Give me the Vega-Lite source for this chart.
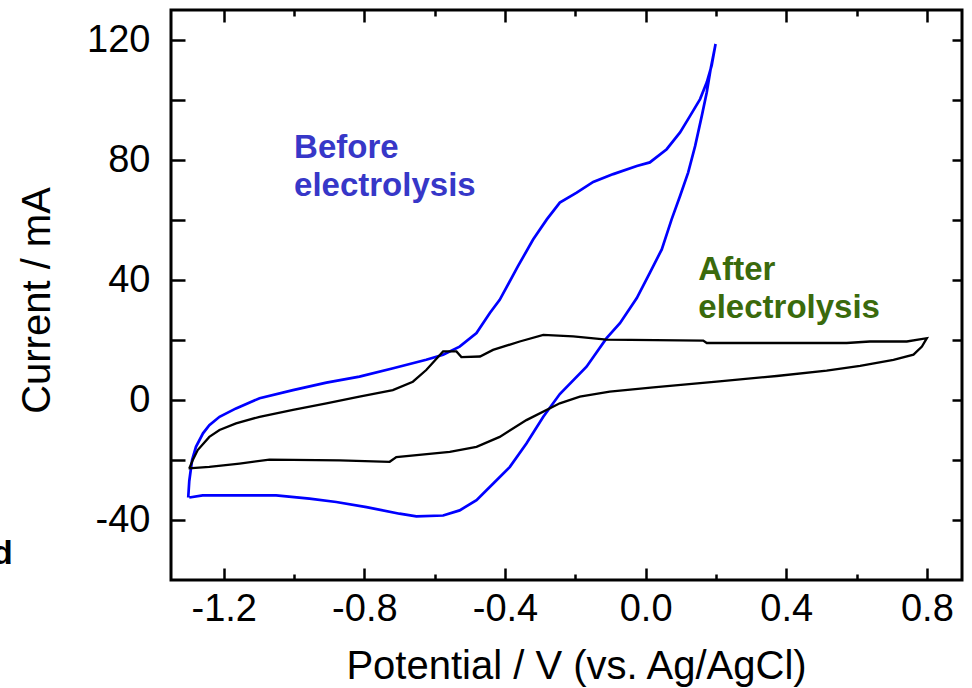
{
  "$schema": "https://vega.github.io/schema/vega-lite/v6.json",
  "width": 791,
  "height": 570,
  "autosize": {"type": "none"},
  "padding": {"left": 171, "top": 10, "right": 10, "bottom": 108},
  "background": "white",
  "config": {
    "font": "Liberation Sans",
    "view": {"stroke": "black", "strokeWidth": 3},
    "axis": {
      "domain": false,
      "grid": false,
      "tickColor": "black",
      "tickWidth": 2.5,
      "labelColor": "black",
      "titleColor": "black",
      "labelFont": "Liberation Sans",
      "labelFontSize": 38,
      "titleFont": "Liberation Sans",
      "titleFontSize": 40,
      "titleFontWeight": "normal",
      "labelFlush": false,
      "labelOverlap": false,
      "labelBound": false
    }
  },
  "resolve": {
    "scale": {"x": "shared", "y": "shared"},
    "axis": {"x": "independent", "y": "independent"}
  },
  "layer": [
    {
      "data": {"values": [
        {"series": "before", "order": 1, "V": -1.301, "I": -32.5},
        {"series": "before", "order": 2, "V": -1.298, "I": -27.0},
        {"series": "before", "order": 3, "V": -1.290, "I": -20.0},
        {"series": "before", "order": 4, "V": -1.279, "I": -15.6},
        {"series": "before", "order": 5, "V": -1.259, "I": -11.1},
        {"series": "before", "order": 6, "V": -1.241, "I": -8.4},
        {"series": "before", "order": 7, "V": -1.212, "I": -5.6},
        {"series": "before", "order": 8, "V": -1.165, "I": -2.8},
        {"series": "before", "order": 9, "V": -1.098, "I": 0.6},
        {"series": "before", "order": 10, "V": -1.003, "I": 3.3},
        {"series": "before", "order": 11, "V": -0.908, "I": 5.8},
        {"series": "before", "order": 12, "V": -0.814, "I": 7.8},
        {"series": "before", "order": 13, "V": -0.718, "I": 10.6},
        {"series": "before", "order": 14, "V": -0.624, "I": 13.4},
        {"series": "before", "order": 15, "V": -0.576, "I": 15.1},
        {"series": "before", "order": 16, "V": -0.529, "I": 17.8},
        {"series": "before", "order": 17, "V": -0.481, "I": 22.3},
        {"series": "before", "order": 18, "V": -0.443, "I": 29.0},
        {"series": "before", "order": 19, "V": -0.415, "I": 33.4},
        {"series": "before", "order": 20, "V": -0.363, "I": 44.6},
        {"series": "before", "order": 21, "V": -0.320, "I": 53.5},
        {"series": "before", "order": 22, "V": -0.281, "I": 60.2},
        {"series": "before", "order": 23, "V": -0.244, "I": 65.8},
        {"series": "before", "order": 24, "V": -0.196, "I": 69.1},
        {"series": "before", "order": 25, "V": -0.149, "I": 72.7},
        {"series": "before", "order": 26, "V": -0.092, "I": 75.3},
        {"series": "before", "order": 27, "V": -0.025, "I": 78.0},
        {"series": "before", "order": 28, "V": 0.012, "I": 79.2},
        {"series": "before", "order": 29, "V": 0.060, "I": 83.6},
        {"series": "before", "order": 30, "V": 0.098, "I": 89.2},
        {"series": "before", "order": 31, "V": 0.127, "I": 94.8},
        {"series": "before", "order": 32, "V": 0.155, "I": 100.3},
        {"series": "before", "order": 33, "V": 0.174, "I": 105.9},
        {"series": "before", "order": 34, "V": 0.188, "I": 111.5},
        {"series": "before", "order": 35, "V": 0.199, "I": 118.7},
        {"series": "before", "order": 36, "V": 0.185, "I": 110.3},
        {"series": "before", "order": 37, "V": 0.174, "I": 102.6},
        {"series": "before", "order": 38, "V": 0.160, "I": 94.8},
        {"series": "before", "order": 39, "V": 0.141, "I": 84.7},
        {"series": "before", "order": 40, "V": 0.121, "I": 75.8},
        {"series": "before", "order": 41, "V": 0.098, "I": 68.0},
        {"series": "before", "order": 42, "V": 0.074, "I": 60.2},
        {"series": "before", "order": 43, "V": 0.046, "I": 50.2},
        {"series": "before", "order": 44, "V": 0.012, "I": 42.4},
        {"series": "before", "order": 45, "V": -0.025, "I": 34.0},
        {"series": "before", "order": 46, "V": -0.073, "I": 25.6},
        {"series": "before", "order": 47, "V": -0.111, "I": 20.6},
        {"series": "before", "order": 48, "V": -0.168, "I": 11.1},
        {"series": "before", "order": 49, "V": -0.244, "I": 2.0},
        {"series": "before", "order": 50, "V": -0.291, "I": -5.6},
        {"series": "before", "order": 51, "V": -0.339, "I": -14.5},
        {"series": "before", "order": 52, "V": -0.386, "I": -22.3},
        {"series": "before", "order": 53, "V": -0.434, "I": -27.9},
        {"series": "before", "order": 54, "V": -0.481, "I": -33.4},
        {"series": "before", "order": 55, "V": -0.529, "I": -36.8},
        {"series": "before", "order": 56, "V": -0.576, "I": -38.5},
        {"series": "before", "order": 57, "V": -0.652, "I": -38.8},
        {"series": "before", "order": 58, "V": -0.700, "I": -37.9},
        {"series": "before", "order": 59, "V": -0.794, "I": -35.7},
        {"series": "before", "order": 60, "V": -0.880, "I": -34.0},
        {"series": "before", "order": 61, "V": -0.956, "I": -32.9},
        {"series": "before", "order": 62, "V": -1.051, "I": -31.8},
        {"series": "before", "order": 63, "V": -1.260, "I": -31.8},
        {"series": "before", "order": 64, "V": -1.298, "I": -32.5},
        {"series": "after", "order": 1, "V": -1.300, "I": -22.8},
        {"series": "after", "order": 2, "V": -1.241, "I": -22.3},
        {"series": "after", "order": 3, "V": -1.155, "I": -21.2},
        {"series": "after", "order": 4, "V": -1.070, "I": -19.9},
        {"series": "after", "order": 5, "V": -0.870, "I": -20.1},
        {"series": "after", "order": 6, "V": -0.728, "I": -20.6},
        {"series": "after", "order": 7, "V": -0.709, "I": -19.0},
        {"series": "after", "order": 8, "V": -0.557, "I": -17.3},
        {"series": "after", "order": 9, "V": -0.481, "I": -15.6},
        {"series": "after", "order": 10, "V": -0.415, "I": -12.3},
        {"series": "after", "order": 11, "V": -0.339, "I": -6.7},
        {"series": "after", "order": 12, "V": -0.244, "I": -1.1},
        {"series": "after", "order": 13, "V": -0.187, "I": 1.1},
        {"series": "after", "order": 14, "V": -0.102, "I": 2.8},
        {"series": "after", "order": 15, "V": 0.022, "I": 4.2},
        {"series": "after", "order": 16, "V": 0.202, "I": 6.1},
        {"series": "after", "order": 17, "V": 0.373, "I": 8.0},
        {"series": "after", "order": 18, "V": 0.515, "I": 9.8},
        {"series": "after", "order": 19, "V": 0.610, "I": 11.4},
        {"series": "after", "order": 20, "V": 0.705, "I": 13.4},
        {"series": "after", "order": 21, "V": 0.762, "I": 15.1},
        {"series": "after", "order": 22, "V": 0.786, "I": 17.8},
        {"series": "after", "order": 23, "V": 0.800, "I": 20.6},
        {"series": "after", "order": 24, "V": 0.743, "I": 19.5},
        {"series": "after", "order": 25, "V": 0.638, "I": 19.5},
        {"series": "after", "order": 26, "V": 0.572, "I": 19.0},
        {"series": "after", "order": 27, "V": 0.174, "I": 19.0},
        {"series": "after", "order": 28, "V": 0.164, "I": 19.8},
        {"series": "after", "order": 29, "V": -0.111, "I": 20.1},
        {"series": "after", "order": 30, "V": -0.206, "I": 21.2},
        {"series": "after", "order": 31, "V": -0.291, "I": 21.7},
        {"series": "after", "order": 32, "V": -0.358, "I": 19.5},
        {"series": "after", "order": 33, "V": -0.434, "I": 16.7},
        {"series": "after", "order": 34, "V": -0.471, "I": 14.5},
        {"series": "after", "order": 35, "V": -0.524, "I": 14.3},
        {"series": "after", "order": 36, "V": -0.538, "I": 16.2},
        {"series": "after", "order": 37, "V": -0.576, "I": 16.2},
        {"series": "after", "order": 38, "V": -0.624, "I": 10.0},
        {"series": "after", "order": 39, "V": -0.662, "I": 6.1},
        {"series": "after", "order": 40, "V": -0.719, "I": 3.3},
        {"series": "after", "order": 41, "V": -0.814, "I": 1.1},
        {"series": "after", "order": 42, "V": -0.908, "I": -1.1},
        {"series": "after", "order": 43, "V": -1.003, "I": -3.3},
        {"series": "after", "order": 44, "V": -1.098, "I": -5.6},
        {"series": "after", "order": 45, "V": -1.165, "I": -7.8},
        {"series": "after", "order": 46, "V": -1.212, "I": -10.0},
        {"series": "after", "order": 47, "V": -1.241, "I": -12.3},
        {"series": "after", "order": 48, "V": -1.274, "I": -16.7},
        {"series": "after", "order": 49, "V": -1.288, "I": -20.0},
        {"series": "after", "order": 50, "V": -1.298, "I": -22.8}
      ]},
      "mark": {"type": "line", "interpolate": "linear", "strokeJoin": "miter"},
      "encoding": {
        "x": {
          "field": "V", "type": "quantitative",
          "scale": {"domain": [-1.35, 0.9], "nice": false, "zero": false},
          "axis": {
            "orient": "bottom",
            "values": [-1.2, -0.8, -0.4, 0, 0.4, 0.8],
            "format": ".1f",
            "labelExpr": "replace(datum.label, '−', '-')",
            "tickSize": -12,
            "labelPadding": 22,
            "title": "Potential / V (vs. Ag/AgCl)",
            "titleX": 405,
            "titleY": 98,
            "titleBaseline": "alphabetic",
            "titleAlign": "center"
          }
        },
        "y": {
          "field": "I", "type": "quantitative",
          "scale": {"domain": [-60, 130], "nice": false, "zero": false},
          "axis": {
            "orient": "left",
            "values": [-40, -20, 0, 20, 40, 60, 80, 100, 120],
            "tickSize": -14,
            "labelPadding": 35,
            "labelExpr": "datum.value % 40 == 0 ? replace(datum.label, '−', '-') : ''",
            "title": "Current / mA",
            "titleX": -122,
            "titleY": 290,
            "titleAngle": -90,
            "titleBaseline": "alphabetic",
            "titleAlign": "center"
          }
        },
        "order": {"field": "order", "type": "quantitative"},
        "color": {
          "field": "series", "type": "nominal",
          "scale": {"domain": ["before", "after"], "range": ["#0000ff", "#000000"]},
          "legend": null
        },
        "strokeWidth": {
          "field": "series", "type": "nominal",
          "scale": {"domain": ["before", "after"], "range": [2.7, 2.3]},
          "legend": null
        }
      }
    },
    {
      "data": {"values": [{"V": -1.0, "I": 80.8, "label": "Before\nelectrolysis"}]},
      "mark": {"type": "text", "align": "left", "baseline": "alphabetic", "lineBreak": "\n", "lineHeight": 38, "font": "Liberation Sans", "fontWeight": "bold", "fontSize": 33, "color": "#3737c8"},
      "encoding": {
        "x": {
          "field": "V", "type": "quantitative",
          "scale": {"domain": [-1.35, 0.9], "nice": false, "zero": false},
          "axis": {"orient": "bottom", "values": [-1.0, -0.6, -0.2, 0.2, 0.6], "tickSize": -6, "labels": false, "title": null}
        },
        "y": {
          "field": "I", "type": "quantitative",
          "scale": {"domain": [-60, 130], "nice": false, "zero": false},
          "axis": {"orient": "right", "values": [-40, -20, 0, 20, 40, 60, 80, 100, 120], "tickSize": -10, "labels": false, "title": null}
        },
        "text": {"field": "label"}
      }
    },
    {
      "data": {"values": [{"V": 0.15, "I": 40.1, "label": "After\nelectrolysis"}]},
      "mark": {"type": "text", "align": "left", "baseline": "alphabetic", "lineBreak": "\n", "lineHeight": 38, "font": "Liberation Sans", "fontWeight": "bold", "fontSize": 33, "color": "#3a6a0c"},
      "encoding": {
        "x": {
          "field": "V", "type": "quantitative",
          "scale": {"domain": [-1.35, 0.9], "nice": false, "zero": false},
          "axis": {"orient": "top", "values": [-1.2, -0.8, -0.4, 0, 0.4, 0.8], "tickSize": -12, "labels": false, "title": null}
        },
        "y": {
          "field": "I", "type": "quantitative",
          "scale": {"domain": [-60, 130], "nice": false, "zero": false},
          "axis": null
        },
        "text": {"field": "label"}
      }
    },
    {
      "data": {"values": [{"V": -1.80, "I": -54.5, "label": "d"}]},
      "mark": {"type": "text", "align": "right", "baseline": "alphabetic", "font": "Liberation Sans", "fontWeight": "bold", "fontSize": 34, "color": "black", "clip": false},
      "encoding": {
        "x": {
          "field": "V", "type": "quantitative",
          "scale": {"domain": [-1.35, 0.9], "nice": false, "zero": false},
          "axis": {"orient": "top", "values": [-1.0, -0.6, -0.2, 0.2, 0.6], "tickSize": -6, "labels": false, "title": null}
        },
        "y": {
          "field": "I", "type": "quantitative",
          "scale": {"domain": [-60, 130], "nice": false, "zero": false},
          "axis": null
        },
        "text": {"field": "label"}
      }
    }
  ]
}
